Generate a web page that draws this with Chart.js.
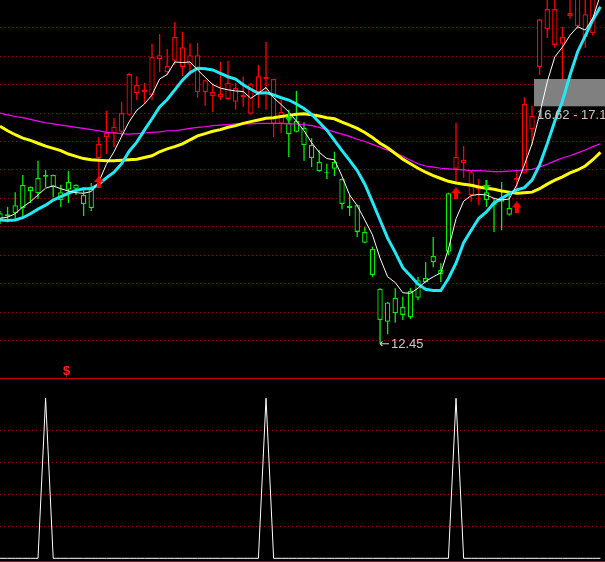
<!DOCTYPE html>
<html>
<head>
<meta charset="utf-8">
<script src="https://cdn.jsdelivr.net/npm/chart.js@4/dist/chart.umd.min.js"></script>
<style>
  html, body { margin: 0; padding: 0; background: #000; overflow: hidden; }
  canvas { display: block; }
</style>
</head>
<body>
<canvas id="main" width="605" height="378"></canvas>
<canvas id="sub" width="605" height="184"></canvas>
<script>
// K线 (one entry per day)
const opens = [14.74,14.72,14.88,15.24,15.20,15.36,15.41,15.41,15.11,15.29,
  15.24,15.06,15.20,15.71,16.08,16.15,16.17,16.47,16.85,16.87,
  16.82,17.45,17.22,17.42,17.31,17.35,16.87,16.87,16.80,16.78,
  16.75,16.70,16.78,16.49,16.87,17.10,16.31,16.31,16.33,16.36,
  16.24,15.94,15.64,15.46,15.64,15.34,14.87,14.88,14.41,14.11,
  13.41,13.17,13.25,13.09,13.37,13.56,13.60,13.99,13.74,15.09,
  15.52,15.62,15.06,15.15,15.11,14.92,15.01,14.83,15.32,15.45,
  16.22,17.31,17.98,17.70,17.72,18.21,18.03,17.84,17.91];
const highs = [14.78,14.85,15.11,15.41,15.21,15.66,15.50,15.42,15.24,15.48,
  15.25,15.20,15.27,16.08,16.54,16.41,16.70,17.21,17.15,17.03,
  17.72,17.89,17.63,18.10,17.93,17.73,17.73,17.09,17.03,17.40,
  17.42,17.03,17.14,17.03,17.35,17.75,17.11,16.73,16.56,16.89,
  16.34,16.06,15.85,15.61,15.82,15.35,15.06,14.89,14.50,14.15,
  13.42,13.18,13.42,13.27,13.42,13.62,13.88,14.32,13.86,15.10,
  16.33,15.92,15.48,15.34,15.32,15.01,15.29,15.06,15.50,16.78,
  16.63,18.16,18.58,18.58,18.02,18.58,18.67,18.58,18.67];
const lows = [14.55,14.58,14.64,14.65,14.92,14.99,15.20,15.02,14.85,14.92,
  15.06,14.69,14.78,15.20,15.78,15.90,16.08,16.46,16.73,16.66,
  16.73,17.22,17.17,17.35,17.15,17.17,16.77,16.63,16.52,16.73,
  16.73,16.56,16.61,16.47,16.59,16.56,16.08,16.15,15.73,16.16,
  15.66,15.55,15.47,15.34,15.39,14.81,14.69,14.32,14.21,13.62,
  12.45,12.61,12.81,12.86,12.88,13.21,13.51,13.79,13.53,14.00,
  15.27,15.36,14.94,14.88,14.85,14.41,14.44,14.70,15.11,15.44,
  15.94,17.17,17.82,17.65,16.91,18.16,17.98,17.65,17.86];
const closes = [14.62,14.69,14.74,14.83,15.13,15.09,15.38,15.20,14.97,15.15,
  15.17,14.90,14.83,15.96,16.15,16.26,16.50,17.19,17.00,16.91,
  17.49,17.52,17.33,17.84,17.66,17.52,17.52,17.08,16.87,16.84,
  17.03,16.94,16.82,17.01,17.15,17.14,17.10,16.52,16.13,16.17,
  15.94,15.71,15.48,15.44,15.52,14.90,14.83,14.41,14.22,13.65,
  12.86,12.83,12.98,12.95,12.91,13.25,13.53,13.88,13.67,14.06,
  15.73,15.68,15.46,15.20,14.97,14.88,14.94,14.71,15.36,16.66,
  16.45,18.15,18.33,18.33,17.84,18.26,18.58,18.24,18.58];

// 均线
const ma5 = [14.65,14.67,14.73,14.85,14.94,15.06,15.18,15.22,15.17,15.13,
  15.10,15.09,15.12,15.29,15.60,15.82,16.09,16.35,16.55,16.66,
  16.82,17.10,17.18,17.40,17.39,17.40,17.26,17.13,17.00,16.94,
  16.91,16.89,16.88,16.76,16.85,16.95,16.77,16.65,16.52,16.36,
  16.19,15.98,15.81,15.70,15.68,15.39,15.06,14.87,14.62,14.36,
  13.95,13.62,13.52,13.34,13.33,13.42,13.54,13.62,13.69,14.11,
  14.64,14.95,15.05,15.07,15.06,15.00,14.97,14.99,15.24,15.59,
  15.96,16.48,17.05,17.49,17.66,17.87,18.02,17.96,18.17,18.58];
const ma10 = [14.62,14.61,14.62,14.66,14.73,14.81,14.88,14.97,15.03,15.09,
  15.14,15.17,15.17,15.25,15.36,15.46,15.61,15.83,15.99,16.20,
  16.40,16.61,16.74,16.91,17.08,17.21,17.29,17.28,17.26,17.20,
  17.14,17.10,17.00,16.92,16.85,16.86,16.82,16.77,16.73,16.66,
  16.58,16.48,16.34,16.20,16.02,15.84,15.67,15.49,15.25,14.94,
  14.62,14.30,14.05,13.78,13.64,13.49,13.40,13.38,13.38,13.59,
  13.86,14.22,14.44,14.65,14.76,14.92,15.00,15.08,15.15,15.19,
  15.32,15.59,15.96,16.36,16.71,17.17,17.58,17.86,18.14,18.37];
const ma60 = [16.27,16.19,16.12,16.06,16.02,15.97,15.92,15.88,15.84,15.78,
  15.74,15.70,15.68,15.67,15.66,15.66,15.67,15.68,15.69,15.72,
  15.75,15.82,15.87,15.91,15.96,16.03,16.10,16.14,16.18,16.21,
  16.25,16.28,16.32,16.35,16.38,16.41,16.42,16.44,16.46,16.48,
  16.49,16.47,16.45,16.42,16.40,16.34,16.29,16.23,16.16,16.07,
  15.97,15.89,15.79,15.69,15.61,15.53,15.46,15.40,15.35,15.30,
  15.27,15.25,15.23,15.20,15.18,15.16,15.13,15.11,15.09,15.10,
  15.11,15.17,15.25,15.32,15.38,15.45,15.50,15.57,15.68,15.81];
const ma120 = [16.50,16.47,16.44,16.42,16.39,16.36,16.33,16.31,16.29,16.27,
  16.25,16.23,16.21,16.19,16.16,16.15,16.14,16.13,16.14,16.15,
  16.16,16.17,16.19,16.19,16.21,16.23,16.25,16.26,16.28,16.29,
  16.30,16.31,16.31,16.31,16.32,16.32,16.32,16.32,16.31,16.31,
  16.30,16.28,16.25,16.21,16.17,16.13,16.09,16.04,16.00,15.95,
  15.90,15.85,15.80,15.74,15.67,15.61,15.57,15.55,15.53,15.52,
  15.51,15.50,15.49,15.49,15.48,15.47,15.47,15.48,15.49,15.50,
  15.51,15.55,15.60,15.66,15.71,15.75,15.80,15.85,15.91,15.96];

// 信号
const buyIdx = [13, 60, 68];
const buyAt = [15.29, 15.09, 14.84];
const sellIdx = [38, 64];
const sellAt = [16.42, 15.22];
const zoneLow = 16.62, zoneHigh = 17.10, zoneFrom = 70.26;
const lowIdx = 50, lowPrice = 12.45;
const dollarIdx = 8.78;

// 副图
const signal = [0,0,0,0,0,0,100,0,0,0, 0,0,0,0,0,0,0,0,0,0,
  0,0,0,0,0,0,0,0,0,0, 0,0,0,0,0,100,0,0,0,0,
  0,0,0,0,0,0,0,0,0,0, 0,0,0,0,0,0,0,0,0,0,
  100,0,0,0,0,0,0,0,0,0, 0,0,0,0,0,0,0,0,0,0];

const RED = '#ff0000', GREEN = '#00f000', GRID = '#900000', SEP = '#c80000';
const upColor = c => closes[c.dataIndex] >= opens[c.dataIndex] ? RED : GREEN;

function arrow(color, up) {
    const c = document.createElement('canvas');
    c.width = 10; c.height = 12;
    const g = c.getContext('2d');
    g.fillStyle = color;
    g.beginPath();
    if (up) { g.moveTo(5, 0); g.lineTo(10, 6); g.lineTo(0, 6); g.closePath(); g.fill(); g.fillRect(3, 6, 4, 6); }
    else { g.moveTo(1, 5); g.lineTo(9, 5); g.lineTo(5, 11); g.closePath(); g.fill(); g.fillRect(4, 0, 2, 5); }
    return c;
}
const upArrow = arrow(RED, true), downArrow = arrow('#00e000', false);

const xScale = {type: 'linear', min: 0, max: 79.6, display: false, offset: false};
const line = (data, color, width, order) => ({
    type: 'line', data: data.map((v, i) => ({x: i, y: v})), borderColor: color, borderWidth: width,
    pointRadius: 0, tension: 0, fill: false, order
});

const overlay = {
    id: 'overlay',
    afterDatasetDraw(chart, args) {
        if (args.index !== 1) return;
        const {ctx, scales: {x, y}, chartArea} = chart;
        const x0 = x.getPixelForValue(zoneFrom);
        const y0 = y.getPixelForValue(zoneHigh), y1 = y.getPixelForValue(zoneLow);
        ctx.save();
        ctx.fillStyle = '#808080';
        ctx.fillRect(x0, y0, chartArea.right - x0, y1 - y0);
        ctx.restore();
    },
    afterDraw(chart) {
        const {ctx, scales: {x, y}, chartArea} = chart;
        ctx.save();
        ctx.fillStyle = '#c8c8c8';
        ctx.font = '13px "Liberation Sans", Arial, sans-serif';
        ctx.textBaseline = 'top';
        ctx.fillText(zoneLow.toFixed(2) + ' - ' + zoneHigh.toFixed(2), x.getPixelForValue(zoneFrom) + 3, y.getPixelForValue(zoneLow) + 3);
        // 最低价标注
        const lx = x.getPixelForValue(lowIdx), ly = y.getPixelForValue(lowPrice) + 1;
        ctx.textBaseline = 'middle';
        ctx.font = '13px "DejaVu Sans", sans-serif';
        ctx.fillText('\u2190', lx - 1, ly);
        ctx.font = '13px "Liberation Sans", Arial, sans-serif';
        ctx.fillText(lowPrice.toFixed(2), lx + 11, ly);
        ctx.fillStyle = '#ff2020';
        ctx.font = 'bold 13px "Liberation Sans", Arial, sans-serif';
        ctx.textAlign = 'center';
        ctx.textBaseline = 'bottom';
        ctx.fillText('$', x.getPixelForValue(dollarIdx), chartArea.bottom);
        ctx.restore();
    }
};

new Chart(document.getElementById('main'), {
    type: 'bar',
    data: {
        datasets: [
            {data: highs.map((h, i) => ({x: i, y: [lows[i], h]})), backgroundColor: upColor, borderWidth: 0,
             barThickness: 1.3, grouped: false, inflateAmount: 0, order: 6},
            {data: opens.map((o, i) => ({x: i, y: [o, closes[i]]})), backgroundColor: '#000', borderColor: upColor,
             borderWidth: 1.3, borderSkipped: false, barThickness: 5.4, grouped: false, inflateAmount: 0, order: 5},
            line(ma120, '#ff00ff', 1.2, 4),
            line(ma60, '#ffff00', 3, 3),
            line(ma10, '#22e8f5', 3, 2),
            line(ma5, '#ffffff', 1, 1),
            {type: 'line', data: buyIdx.map((v, i) => ({x: v, y: buyAt[i]})), showLine: false,
             pointStyle: upArrow, pointRadius: 5, order: 0},
            {type: 'line', data: sellIdx.map((v, i) => ({x: v, y: sellAt[i]})), showLine: false,
             pointStyle: downArrow, pointRadius: 5, order: 0}
        ]
    },
    options: {
        responsive: false, animation: false, events: [],
        layout: {padding: 0, autoPadding: false},
        plugins: {legend: {display: false}, tooltip: {enabled: false}},
        scales: {
            x: xScale,
            y: {
                min: 11.84, max: 18.49,
                afterBuildTicks: s => { s.ticks = [12.5, 13, 13.5, 14, 14.5, 15, 15.5, 16, 16.5, 17, 17.5, 18].map(v => ({value: v})); },
                afterFit: s => { s.width = 0; },
                ticks: {display: false},
                grid: {color: GRID, drawTicks: false, lineWidth: 1},
                border: {display: false, dash: [1, 3]}
            }
        }
    },
    plugins: [overlay]
});

const frame = {
    id: 'frame',
    afterDraw(chart) {
        const {ctx, chartArea} = chart;
        ctx.save();
        ctx.fillStyle = SEP;
        ctx.fillRect(0, chartArea.top, chart.width, 1);
        ctx.fillRect(0, chartArea.bottom - 1, chart.width, 1);
        ctx.restore();
    }
};

new Chart(document.getElementById('sub'), {
    type: 'line',
    data: {datasets: [line(signal, '#ffffff', 1, 0)]},
    options: {
        responsive: false, animation: false, events: [],
        layout: {padding: 0, autoPadding: false},
        plugins: {legend: {display: false}, tooltip: {enabled: false}},
        scales: {
            x: xScale,
            y: {
                min: -2.31, max: 112.69,
                afterBuildTicks: s => { s.ticks = [20, 40, 60, 80].map(v => ({value: v})); },
                afterFit: s => { s.width = 0; },
                ticks: {display: false},
                grid: {color: GRID, drawTicks: false},
                border: {display: false, dash: [1, 3]}
            }
        }
    },
    plugins: [frame]
});
</script>
</body>
</html>
